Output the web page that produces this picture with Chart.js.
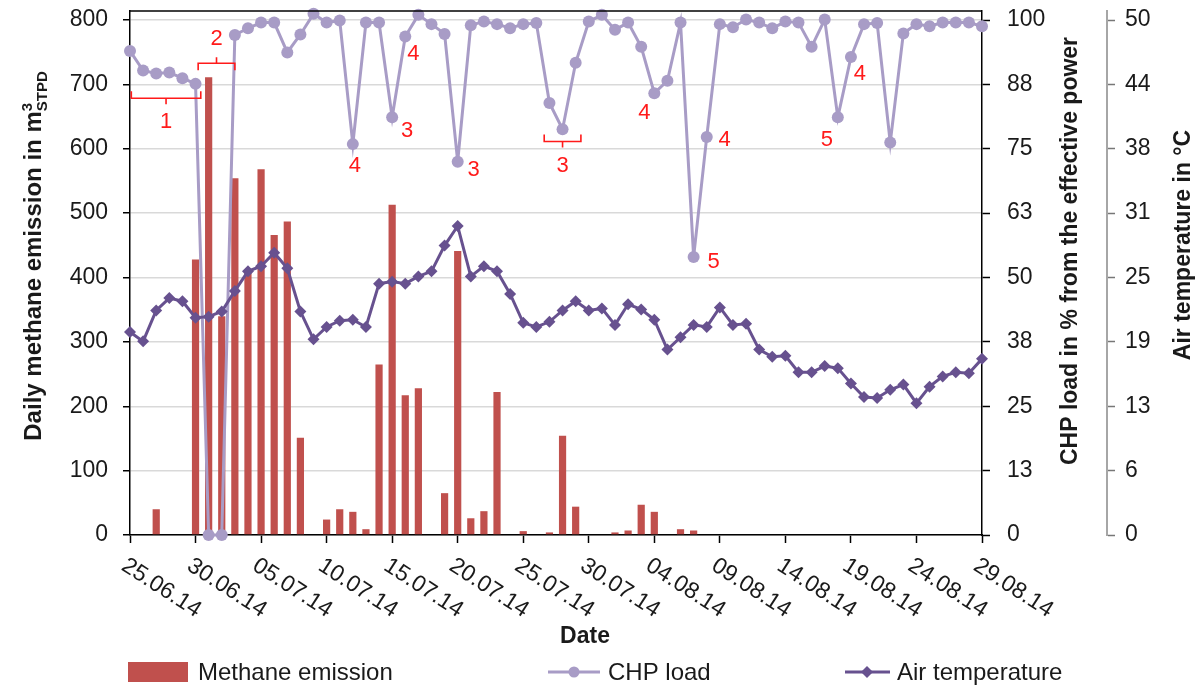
<!DOCTYPE html>
<html>
<head>
<meta charset="utf-8">
<title>Methane emission, CHP load and air temperature</title>
<script src="https://cdn.jsdelivr.net/npm/chart.js@4.4.1/dist/chart.umd.min.js"></script>
<style>
  html, body { margin: 0; padding: 0; background: #fff; }
  #wrap { width: 1202px; height: 687px; }
</style>
</head>
<body>
<div id="wrap"><canvas id="chart" width="1202" height="687"></canvas></div>
<script>
// daily dates, 25.06.14 - 29.08.14
const dates = [
  "25.06.14", "26.06.14", "27.06.14", "28.06.14", "29.06.14", "30.06.14",
  "01.07.14", "02.07.14", "03.07.14", "04.07.14", "05.07.14", "06.07.14", "07.07.14", "08.07.14",
  "09.07.14", "10.07.14", "11.07.14", "12.07.14", "13.07.14", "14.07.14", "15.07.14", "16.07.14",
  "17.07.14", "18.07.14", "19.07.14", "20.07.14", "21.07.14", "22.07.14", "23.07.14", "24.07.14",
  "25.07.14", "26.07.14", "27.07.14", "28.07.14", "29.07.14", "30.07.14", "31.07.14",
  "01.08.14", "02.08.14", "03.08.14", "04.08.14", "05.08.14", "06.08.14", "07.08.14", "08.08.14",
  "09.08.14", "10.08.14", "11.08.14", "12.08.14", "13.08.14", "14.08.14", "15.08.14", "16.08.14",
  "17.08.14", "18.08.14", "19.08.14", "20.08.14", "21.08.14", "22.08.14", "23.08.14", "24.08.14",
  "25.08.14", "26.08.14", "27.08.14", "28.08.14", "29.08.14"
];

// daily methane emission in m3 (STPD)
const methane = [
  0, 0, 40, 0, 0, 428, 711, 340, 554, 410, 568, 466, 487, 151, 0, 24, 40, 36, 9, 265,
  513, 217, 228, 0, 65, 441, 26, 37, 222, 0, 6, 0, 4, 154, 44, 0, 0, 4, 7, 47,
  36, 0, 9, 7, 0, 0, 0, 0, 0, 0, 0, 0, 0, 0, 0, 0, 0, 0, 0, 0,
  0, 0, 0, 0, 0, 0
];

// CHP load in % of effective power
const chpLoad = [
  94.0, 90.2, 89.6, 89.8, 88.7, 87.6, 0, 0, 97.1, 98.4, 99.5, 99.5, 93.7, 97.2, 101.2, 99.5,
  99.9, 75.9, 99.5, 99.5, 81.1, 96.8, 101.0, 99.2, 97.3, 72.5, 99.0, 99.7, 99.2, 98.4, 99.2, 99.4,
  83.9, 78.8, 91.7, 99.7, 101.0, 98.1, 99.5, 94.8, 85.8, 88.2, 99.5, 54.0, 77.3, 99.2, 98.6, 100.1,
  99.5, 98.4, 99.7, 99.5, 94.8, 100.1, 81.1, 92.8, 99.2, 99.4, 76.2, 97.4, 99.2, 98.8, 99.5, 99.5,
  99.5, 98.8
];

// air temperature in °C
const airTemp = [
  19.7, 18.8, 21.8, 23.0, 22.7, 21.1, 21.2, 21.7, 23.7, 25.6, 26.1, 27.4, 25.9, 21.7, 19.0, 20.2,
  20.8, 20.9, 20.2, 24.4, 24.6, 24.4, 25.1, 25.6, 28.1, 30.0, 25.1, 26.1, 25.6, 23.4, 20.6, 20.2,
  20.7, 21.8, 22.7, 21.8, 22.0, 20.4, 22.4, 21.9, 20.9, 18.0, 19.2, 20.4, 20.2, 22.1, 20.4, 20.5,
  18.0, 17.3, 17.4, 15.8, 15.8, 16.4, 16.2, 14.7, 13.4, 13.3, 14.1, 14.6, 12.8, 14.4, 15.4, 15.8,
  15.7, 17.1
];

// axis ticks
const methaneTicks = [0, 100, 200, 300, 400, 500, 600, 700, 800];
const chpTicks = [0, 12.5, 25, 37.5, 50, 62.5, 75, 87.5, 100];
const tempTicks = [0, 6.25, 12.5, 18.75, 25, 31.25, 37.5, 43.75, 50];

// red remarks on the CHP curve: brackets (x in day index, y in CHP %) and numbers next to points
const brackets = [
  { from: 0.1, to: 5.4, at: 84.8, label: "1", open: "up" },
  { from: 5.2, to: 8.0, at: 91.6, label: "2", open: "down" },
  { from: 31.6, to: 34.4, at: 76.4, label: "3", open: "up" }
];
const remarks = [
  { day: 17, text: "4", dx: 2, dy: 22 },
  { day: 20, text: "3", dx: 15, dy: 14 },
  { day: 21, text: "4", dx: 8, dy: 17 },
  { day: 25, text: "3", dx: 16, dy: 8 },
  { day: 40, text: "4", dx: -10, dy: 20 },
  { day: 43, text: "5", dx: 20, dy: 5 },
  { day: 44, text: "4", dx: 18, dy: 3 },
  { day: 54, text: "5", dx: -11, dy: 23 },
  { day: 55, text: "4", dx: 9, dy: 17 }
];

const FONT = "'Liberation Sans', Arial, sans-serif";
const RED = "#C0504D";
const LILAC = "#A89CC6";
const PURPLE = "#67518F";
const MARK = "#FF1A1A";

// the top of the plot sits a little above 800 / 100 % / 50 °C
const topFactor = 814 / 800;

const extras = {
  id: "extras",
  afterDraw(chart) {
    const ctx = chart.ctx;
    const area = chart.chartArea;
    const xs = chart.scales.x;
    const yChp = chart.scales.y1;

    ctx.save();

    // frame line along the top of the plot
    ctx.strokeStyle = "#000";
    ctx.lineWidth = 1.5;
    ctx.beginPath();
    ctx.moveTo(area.left, area.top);
    ctx.lineTo(area.right, area.top);
    ctx.stroke();

    // slanted date labels, every fifth day
    ctx.fillStyle = "#1a1a1a";
    ctx.font = "23px " + FONT;
    ctx.textAlign = "left";
    ctx.textBaseline = "top";
    for (let i = 0; i < dates.length; i += 5) {
      const x = xs.getPixelForValue(i);
      ctx.save();
      ctx.translate(x, area.bottom + 19);
      ctx.rotate(33 * Math.PI / 180);
      ctx.fillText(dates[i], 0, 0);
      ctx.restore();
    }

    // x axis title
    ctx.font = "bold 23px " + FONT;
    ctx.textAlign = "center";
    ctx.textBaseline = "middle";
    ctx.fillText("Date", 585, 637);

    // left axis title with m³ (STPD)
    ctx.save();
    ctx.translate(33, 256);
    ctx.rotate(-Math.PI / 2);
    const main = "Daily methane emission in m";
    ctx.font = "bold 24px " + FONT;
    const wMain = ctx.measureText(main).width;
    ctx.font = "bold 15px " + FONT;
    const wSup = ctx.measureText("3").width;
    const wSub = ctx.measureText("STPD").width;
    const total = wMain + Math.max(wSup, wSub);
    let tx = -total / 2;
    ctx.textAlign = "left";
    ctx.textBaseline = "alphabetic";
    ctx.font = "bold 24px " + FONT;
    ctx.fillText(main, tx, 8);
    ctx.font = "bold 15px " + FONT;
    ctx.fillText("3", tx + wMain, -1);
    ctx.fillText("STPD", tx + wMain, 14);
    ctx.restore();

    // right axis titles
    ctx.font = "bold 23px " + FONT;
    ctx.textAlign = "center";
    ctx.textBaseline = "middle";
    ctx.save();
    ctx.translate(1071, 251);
    ctx.rotate(-Math.PI / 2);
    ctx.fillText("CHP load in % from the effective power", 0, 0);
    ctx.restore();
    ctx.save();
    ctx.translate(1184, 245);
    ctx.rotate(-Math.PI / 2);
    ctx.fillText("Air temperature in °C", 0, 0);
    ctx.restore();

    // remarks on the CHP curve
    ctx.strokeStyle = MARK;
    ctx.fillStyle = MARK;
    ctx.lineWidth = 1.6;
    ctx.font = "22px " + FONT;
    brackets.forEach(b => {
      const x1 = xs.getPixelForValue(b.from);
      const x2 = xs.getPixelForValue(b.to);
      const y = yChp.getPixelForValue(b.at);
      const s = b.open === "up" ? -1 : 1;
      const xm = (x1 + x2) / 2;
      ctx.beginPath();
      ctx.moveTo(x1, y + 7 * s);
      ctx.lineTo(x1, y);
      ctx.lineTo(x2, y);
      ctx.lineTo(x2, y + 7 * s);
      ctx.moveTo(xm, y);
      ctx.lineTo(xm, y - 6 * s);
      ctx.stroke();
      ctx.fillText(b.label, xm, y - 24 * s);
    });
    remarks.forEach(r => {
      const x = xs.getPixelForValue(r.day) + r.dx;
      const y = yChp.getPixelForValue(chpLoad[r.day]) + r.dy;
      ctx.fillText(r.text, x, y);
    });

    // legend row
    const ly = 672;
    ctx.fillStyle = RED;
    ctx.fillRect(128, ly - 10, 60, 20);
    ctx.strokeStyle = LILAC;
    ctx.lineWidth = 3;
    ctx.beginPath();
    ctx.moveTo(548, ly);
    ctx.lineTo(600, ly);
    ctx.stroke();
    ctx.fillStyle = LILAC;
    ctx.beginPath();
    ctx.arc(574, ly, 5.5, 0, Math.PI * 2);
    ctx.fill();
    ctx.strokeStyle = PURPLE;
    ctx.beginPath();
    ctx.moveTo(845, ly);
    ctx.lineTo(890, ly);
    ctx.stroke();
    ctx.fillStyle = PURPLE;
    ctx.beginPath();
    ctx.moveTo(867, ly - 6);
    ctx.lineTo(873, ly);
    ctx.lineTo(867, ly + 6);
    ctx.lineTo(861, ly);
    ctx.closePath();
    ctx.fill();
    ctx.fillStyle = "#1a1a1a";
    ctx.font = "24px " + FONT;
    ctx.textAlign = "left";
    ctx.fillText("Methane emission", 198, ly + 1);
    ctx.fillText("CHP load", 608, ly + 1);
    ctx.fillText("Air temperature", 897, ly + 1);

    ctx.restore();
  }
};

function fixedTicks(values) {
  return scale => { scale.ticks = values.map(v => ({ value: v })); };
}
function noOverflow(size, key) {
  return scale => {
    scale[key] = size;
    scale.paddingTop = 0;
    scale.paddingBottom = 0;
    scale.paddingLeft = 0;
    scale.paddingRight = 0;
  };
}

const tickFont = { family: FONT, size: 23 };

new Chart(document.getElementById("chart"), {
  data: {
    labels: dates,
    datasets: [
      {
        type: "line",
        label: "Air temperature",
        data: airTemp,
        yAxisID: "y2",
        borderColor: PURPLE,
        backgroundColor: PURPLE,
        borderWidth: 3,
        pointStyle: "rectRot",
        pointRadius: 6,
        pointBorderWidth: 0,
        tension: 0,
        clip: false,
        order: 1
      },
      {
        type: "line",
        label: "CHP load",
        data: chpLoad,
        yAxisID: "y1",
        borderColor: LILAC,
        backgroundColor: LILAC,
        borderWidth: 3,
        pointStyle: "circle",
        pointRadius: 6,
        pointBorderWidth: 0,
        tension: 0,
        clip: false,
        order: 2
      },
      {
        type: "bar",
        label: "Methane emission",
        data: methane,
        yAxisID: "y",
        backgroundColor: RED,
        borderWidth: 0,
        categoryPercentage: 1,
        barPercentage: 0.55,
        order: 3
      }
    ]
  },
  options: {
    responsive: false,
    animation: false,
    devicePixelRatio: 1,
    layout: { padding: { top: 11, left: 0, right: 0, bottom: 0 } },
    plugins: {
      legend: { display: false },
      tooltip: { enabled: false }
    },
    scales: {
      x: {
        type: "category",
        offset: false,
        grid: { offset: false, drawOnChartArea: false, tickLength: 8, tickColor: "#000", tickWidth: 1.5 },
        border: { color: "#000", width: 1.5 },
        ticks: { display: false, autoSkip: false },
        afterBuildTicks: scale => { scale.ticks = scale.ticks.filter(t => t.value % 5 === 0); },
        afterFit: noOverflow(152, "height")
      },
      y: {
        position: "left",
        min: 0,
        max: 800 * topFactor,
        afterBuildTicks: fixedTicks(methaneTicks),
        grid: { color: "#D9D9D9", lineWidth: 1.5, tickColor: "#000", tickLength: 7, tickWidth: 1.5 },
        border: { color: "#000", width: 1.5 },
        ticks: { font: tickFont, color: "#1a1a1a", padding: 15 },
        afterFit: noOverflow(130, "width")
      },
      y1: {
        position: "right",
        min: 0,
        max: 100 * topFactor,
        afterBuildTicks: fixedTicks(chpTicks),
        grid: { drawOnChartArea: false, tickColor: "#000", tickLength: 8, tickWidth: 1.5 },
        border: { color: "#000", width: 1.5 },
        ticks: { font: tickFont, color: "#1a1a1a", padding: 17, callback: v => Math.round(v) },
        afterFit: noOverflow(125, "width")
      },
      y2: {
        position: "right",
        min: 0,
        max: 50 * topFactor,
        afterBuildTicks: fixedTicks(tempTicks),
        grid: { drawOnChartArea: false, tickColor: "#777", tickLength: 8, tickWidth: 1.5 },
        border: { color: "#A6A6A6", width: 2 },
        ticks: { font: tickFont, color: "#1a1a1a", padding: 10, callback: v => Math.round(v) },
        afterFit: noOverflow(95, "width")
      }
    }
  },
  plugins: [extras]
});
</script>
</body>
</html>
